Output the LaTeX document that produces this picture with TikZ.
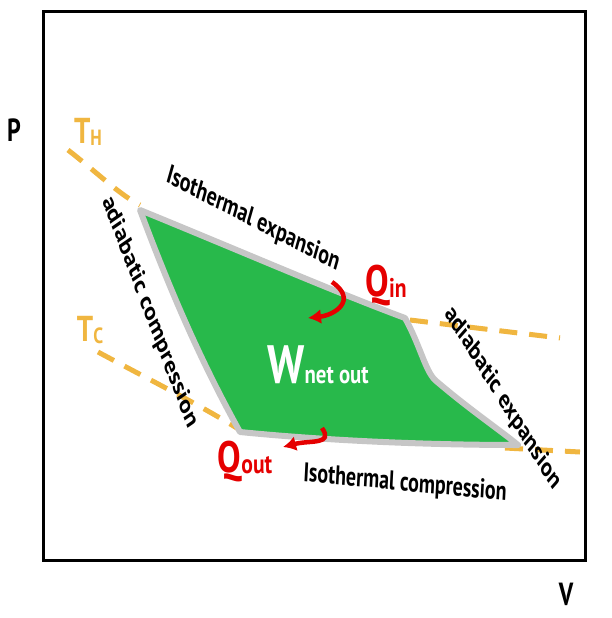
\documentclass[tikz,border=0pt]{standalone}
\usepackage{fontspec}
\setmainfont{PT Sans}
\usetikzlibrary{arrows.meta}
\definecolor{gold}{RGB}{240,182,64}
\definecolor{fillg}{RGB}{40,185,75}
\begin{document}
\begin{tikzpicture}[x=1pt,y=-1pt,
 lab/.style={font=\bfseries\fontsize{27}{27}\selectfont,xscale=0.74,text=black},
 axl/.style={font=\bfseries\fontsize{32}{32}\selectfont,xscale=0.75},
 temp/.style={draw=gold,line width=5pt,dash pattern=on 18pt off 12pt},
 tl/.style={font=\bfseries\fontsize{36}{36}\selectfont,text=gold,xscale=0.8},
 ql/.style={font=\bfseries\fontsize{44}{44}\selectfont,text=red!90!black,xscale=0.8},
 harr/.style={draw=red!90!black,line width=4.5pt,-{Latex[length=13pt,width=15pt]}}]
\useasboundingbox (0,0) rectangle (612,618);
\draw[line width=3pt] (43,12) rectangle (585,560);
\node[axl] (P) at (14,130) {P};
\node[axl] (V) at (566,594) {V};
\draw[temp] (68,150) .. controls (100,175) and (120,195) .. (140,205);
\draw[temp] (410,320) -- (560,338);
\draw[temp] (98,352) .. controls (150,380) and (200,405) .. (240,430);
\draw[temp] (505,448) -- (580,452);
\node[tl] (TH) at (88,132) {T\raisebox{-2pt}{\fontsize{22}{22}\selectfont H}};
\node[tl] (TC) at (90,330) {T\raisebox{-2pt}{\fontsize{22}{22}\selectfont C}};
\filldraw[fill=fillg,draw=gray!45,line width=6pt,line join=round]
 (140,210) .. controls (250,255) and (330,290) .. (405,318)
 .. controls (420,345) and (425,370) .. (435,380)
 .. controls (470,410) and (500,430) .. (518,445)
 .. controls (420,445) and (320,440) .. (240,432)
 .. controls (200,360) and (170,290) .. (140,210) -- cycle;
\node[lab,rotate=-21] (ie) at (253,220) {Isothermal expansion};
\node[lab,rotate=-63] (ac) at (150,312) {adiabatic compression};
\node[lab,rotate=-50] (ae) at (503,398) {adiabatic expansion};
\node[lab,rotate=-4] (ic) at (405,484) {Isothermal compression};
\node[ql] (Qin) at (386,286) {Q\raisebox{-1pt}{\fontsize{27}{27}\selectfont in}};
\node[ql] (Qout) at (245,462) {Q\raisebox{-1pt}{\fontsize{27}{27}\selectfont out}};
\node[font=\bfseries\fontsize{54}{54}\selectfont,text=white,xscale=0.8] (W) at (318,365) {W\raisebox{0pt}{\fontsize{26}{26}\selectfont net out}};
\coordinate (a1) at (332,282);
\coordinate (a2) at (308,318);
\draw[harr] (a1) .. controls (358,300) and (335,315) .. (a2);
\coordinate (b1) at (322,428);
\coordinate (b2) at (283,447);
\draw[harr] (b1) .. controls (334,445) and (310,440) .. (b2);
\end{tikzpicture}
\end{document}
